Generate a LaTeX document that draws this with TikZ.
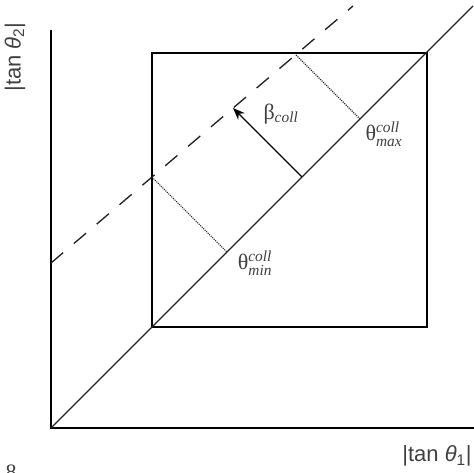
\documentclass[tikz,border=0pt]{standalone}
\usepackage{amsmath}
\usepackage{fontspec}
\setmainfont{Liberation Serif}
\setsansfont{Liberation Sans}
\usetikzlibrary{arrows.meta, positioning, calc}
\definecolor{axisgray}{HTML}{222222}

\begin{document}
\begin{tikzpicture}[
    x=0.75pt, y=-0.75pt,
    axis/.style={line width=1.5pt, black},
    frame/.style={line width=1.5pt, black},
    diag/.style={line width=1pt, axisgray},
    shifted/.style={line width=1pt, axisgray, dash pattern=on 12pt off 10.5pt},
    proj/.style={line width=0.8pt, axisgray, dash pattern=on 0.8pt off 0.8pt},
    arrow/.style={-{Stealth[length=9pt, width=7pt]}, line width=1pt, black},
    axlabel/.style={font=\sffamily\fontsize{16.5}{19}\selectfont, text=black!75, inner sep=0pt},
    label/.style={font=\fontsize{16.5}{19}\selectfont, text=black!75, inner sep=0pt}
]
\useasboundingbox (0,0) rectangle (474,472);

% axes
\coordinate (origin) at (51,428);
\coordinate (ytop) at (51,30);
\coordinate (xend) at (474,428);
\draw[axis] (ytop) -- (origin) -- (xend);

% collimation window
\coordinate (boxll) at (152,327);
\coordinate (boxur) at (427,53);
\draw[frame] (boxll) rectangle (boxur);

% diagonal and shifted line
\coordinate (diagend) at (473,6);
\draw[diag] (origin) -- (diagend);
\coordinate (shstart) at (51,263);
\coordinate (shend) at (353,6);
\draw[shifted] (shstart) -- (shend);

% projections
\coordinate (minA) at (152,177);
\coordinate (minB) at (227,252);
\coordinate (maxA) at (296,55);
\coordinate (maxB) at (360,119);
\draw[proj] (minA) -- (minB);
\draw[proj] (maxA) -- (maxB);

% offset arrow
\coordinate (betafoot) at (302,177);
\coordinate (betatip) at (233,108);
\draw[arrow] (betafoot) -- (betatip);

% labels
\node[label] (beta) at (281,114) {β$_{\textit{coll}}$};
\node[label] (thmax) at (384,134) {θ$^{\textit{coll}}_{\textit{max}}$};
\node[label] (thmin) at (255,263) {θ$^{\textit{coll}}_{\textit{min}}$};
\node[axlabel] (xlab) at (437,456) {|tan \textit{θ}\textsubscript{1}|};
\node[axlabel, rotate=90] (ylab) at (15,57) {|tan \textit{θ}\textsubscript{2}|};
\node[label] (stray) at (11,472) {8};
\end{tikzpicture}
\end{document}
